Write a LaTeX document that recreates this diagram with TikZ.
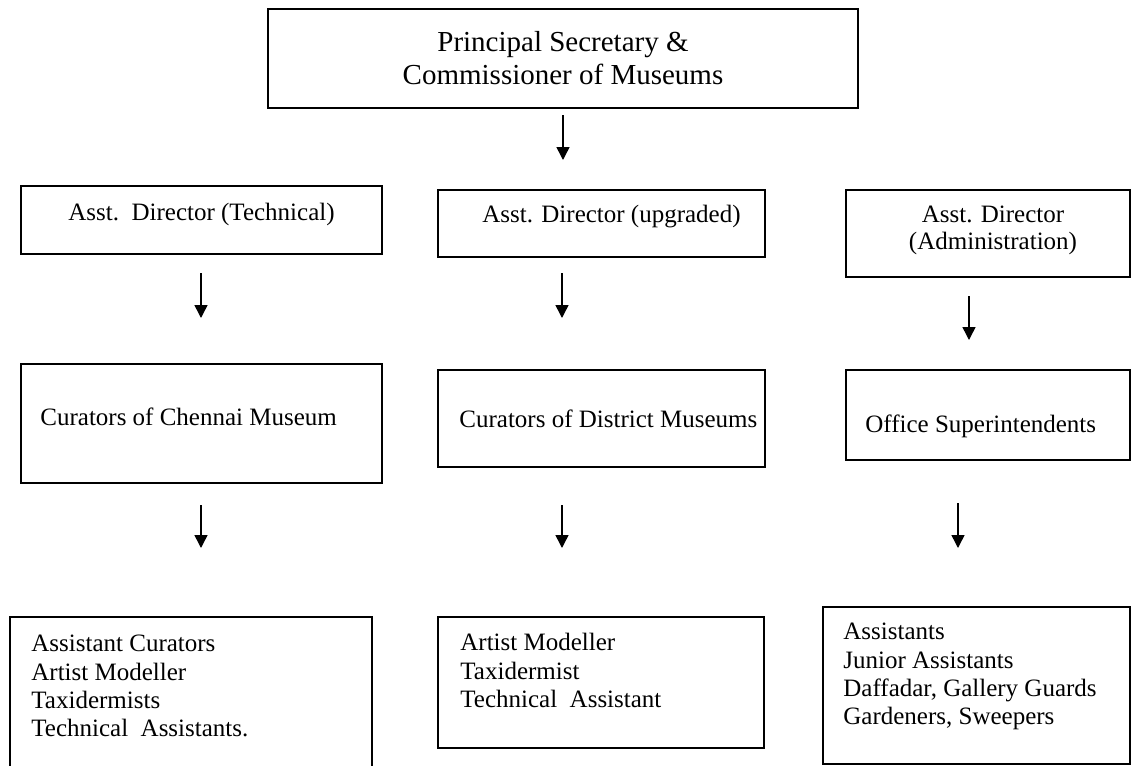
\documentclass[tikz,border=0pt]{standalone}
\usepackage{fontspec}
\setmainfont{Liberation Serif}
\usetikzlibrary{arrows.meta}
\begin{document}
\begin{tikzpicture}[x=0.5pt,y=-0.5pt,
  box/.style={draw, line width=1pt, inner sep=0pt},
  lbl/.style={inner sep=0pt, font=\fontsize{12.5}{14.15}\selectfont, align=left},
  arr/.style={line width=0.75pt, -{Triangle[length=6.5pt,width=6.5pt]}}]
\useasboundingbox (0,0) rectangle (1132,766);
% boxes (pixel coordinates)
\node[box, minimum width=295pt, minimum height=49.5pt] (top) at (563,58.5) {};
\node[box, minimum width=180.5pt, minimum height=34pt] (b1) at (201.5,220) {};
\node[box, minimum width=163.5pt, minimum height=33.5pt] (b2) at (601.5,223.5) {};
\node[box, minimum width=142pt, minimum height=43.5pt] (b3) at (988,233.5) {};
\node[box, minimum width=180.5pt, minimum height=59.5pt] (c1) at (201.5,423.5) {};
\node[box, minimum width=163.5pt, minimum height=48.5pt] (c2) at (601.5,418.5) {};
\node[box, minimum width=142pt, minimum height=45pt] (c3) at (988,415) {};
\node[box, minimum width=181pt, minimum height=75pt] (d1) at (191,692) {};
\node[box, minimum width=163pt, minimum height=65.5pt] (d2) at (601,682.5) {};
\node[box, minimum width=153.5pt, minimum height=78.5pt] (d3) at (976.5,685.5) {};
% texts
\node[lbl, align=center, font=\fontsize{14.5}{16.5}\selectfont] (ttop) at (563,58.5) {Principal Secretary \&\\Commissioner of Museums};
\node[lbl, anchor=base] (tb1) at (201.5,220) {Asst.\ \ Director (Technical)};
\node[lbl, anchor=base west] (tb2) at (482,222) {Asst. Director (upgraded)};
\node[lbl, align=center, anchor=north, font=\fontsize{12.5}{13.5}\selectfont] (tb3) at (993,206) {Asst. Director\\(Administration)};
\node[lbl, anchor=base west] (tc1) at (40,425) {Curators of Chennai Museum};
\node[lbl, anchor=base west] (tc2) at (459,427) {Curators of District Museums};
\node[lbl, anchor=base west] (tc3) at (865,432) {Office Superintendents};
\node[lbl, anchor=north west] (td1) at (31,635) {Assistant Curators\\Artist Modeller\\Taxidermists\\Technical\ \ Assistants.};
\node[lbl, anchor=north west] (td2) at (460,633) {Artist Modeller\\Taxidermist\\Technical\ \ Assistant};
\node[lbl, anchor=north west] (td3) at (843,623) {Assistants\\Junior Assistants\\Daffadar, Gallery Guards\\Gardeners, Sweepers};
% arrow end points
\coordinate (a0s) at (563,115); \coordinate (a0e) at (563,160);
\coordinate (a1s) at (201,273); \coordinate (a1e) at (201,318);
\coordinate (a2s) at (562,273); \coordinate (a2e) at (562,318);
\coordinate (a3s) at (969,296); \coordinate (a3e) at (969,340);
\coordinate (a4s) at (201,505); \coordinate (a4e) at (201,548);
\coordinate (a5s) at (562,505); \coordinate (a5e) at (562,548);
\coordinate (a6s) at (958,503); \coordinate (a6e) at (958,548);
\foreach \i in {0,...,6} \draw[arr] (a\i s) -- (a\i e);
\end{tikzpicture}
\end{document}
